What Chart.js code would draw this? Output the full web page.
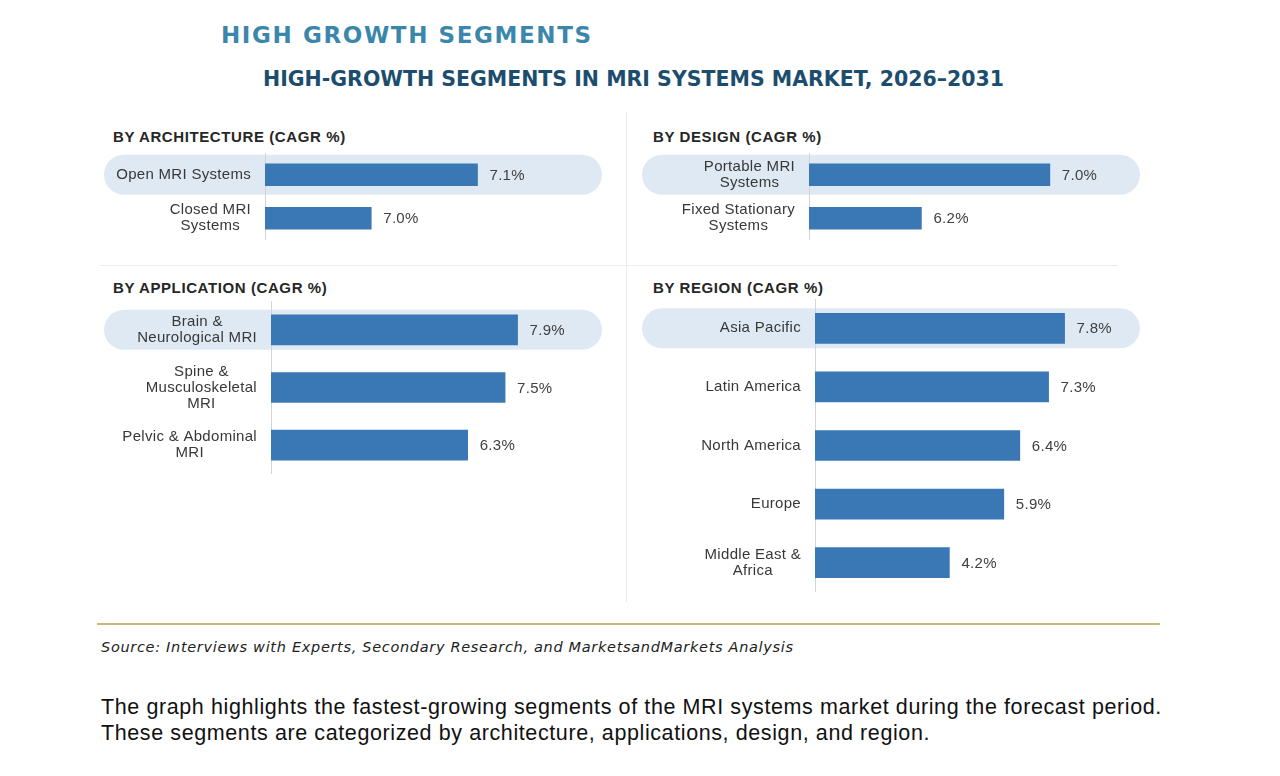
<!DOCTYPE html>
<html>
<head>
<meta charset="utf-8">
<script src="https://cdn.jsdelivr.net/npm/chart.js@4.4.1/dist/chart.umd.min.js"></script>
<style>
  body { margin: 0; background: #fff; width: 1280px; height: 776px; position: relative; overflow: hidden; font-family: 'Liberation Sans', Arial, sans-serif; }
  .abs { position: absolute; white-space: nowrap; }
  .title { left: 221px; top: 24px; font: bold 23px 'DejaVu Sans'; letter-spacing: 1.6px; color: #3b87ab; line-height: 1; }
  .subtitle { left: 263px; top: 69px; font: bold 20.5px 'DejaVu Sans'; color: #1d4d6e; line-height: 1; }
  .ptitle { font: bold 15px 'Liberation Sans'; color: #262626; line-height: 1; letter-spacing: 0.6px; }
  .line { position: absolute; background: #ececec; }
  .source { left: 101px; top: 640px; font: oblique 14.5px 'DejaVu Sans'; letter-spacing: 0.68px; color: #222; line-height: 1; }
  .para { left: 101px; font: 21.5px 'Liberation Sans'; color: #111; line-height: 1; letter-spacing: 0.6px; }
  canvas { position: absolute; }
</style>
</head>
<body>
<div class="abs title">HIGH GROWTH SEGMENTS</div>
<div class="abs subtitle">HIGH-GROWTH SEGMENTS IN MRI SYSTEMS MARKET, 2026–2031</div>

<div class="line" style="left:626px;top:112px;width:1px;height:490px"></div>
<div class="line" style="left:100px;top:265px;width:1018px;height:1px"></div>

<div class="abs ptitle" style="left:113px;top:129px">BY ARCHITECTURE (CAGR %)</div>
<div class="abs ptitle" style="left:653px;top:129px">BY DESIGN (CAGR %)</div>
<div class="abs ptitle" style="left:113px;top:280px">BY APPLICATION (CAGR %)</div>
<div class="abs ptitle" style="left:653px;top:280px">BY REGION (CAGR %)</div>

<canvas id="arch" width="505" height="87" style="left:100px;top:153px"></canvas>
<canvas id="design" width="505" height="87" style="left:638px;top:153px"></canvas>
<canvas id="app" width="505" height="173" style="left:100px;top:301px"></canvas>
<canvas id="region" width="505" height="293" style="left:638px;top:299px"></canvas>

<div class="line" style="left:97px;top:623px;width:1063px;height:2px;background:#c9b87c"></div>
<div class="abs source">Source: Interviews with Experts, Secondary Research, and MarketsandMarkets Analysis</div>
<div class="abs para" style="top:697px">The graph highlights the fastest-growing segments of the MRI systems market during the forecast period.</div>
<div class="abs para" style="top:723px">These segments are categorized by architecture, applications, design, and region.</div>

<script>
// categories and CAGR values per panel
const archLabels = ['Open MRI Systems', ['Closed MRI', 'Systems']];
const archValues = [7.1, 7.0];

const designLabels = [['Portable MRI', 'Systems'], ['Fixed Stationary', 'Systems']];
const designValues = [7.0, 6.2];

const appLabels = [['Brain &', 'Neurological MRI'], ['Spine &', 'Musculoskeletal', 'MRI'], ['Pelvic & Abdominal', 'MRI']];
const appValues = [7.9, 7.5, 6.3];

const regionLabels = ['Asia Pacific', 'Latin America', 'North America', 'Europe', ['Middle East &', 'Africa']];
const regionValues = [7.8, 7.3, 6.4, 5.9, 4.2];

const BAR = '#3a78b5';
const PILL = '#dfe9f4';

// light blue rounded band behind the top category
const pillPlugin = {
  id: 'pill',
  beforeDraw(chart, args, opts) {
    const ctx = chart.ctx;
    const y = chart.scales.y.getPixelForValue(0);
    ctx.save();
    ctx.fillStyle = PILL;
    ctx.beginPath();
    ctx.roundRect(opts.left, y - 20, opts.right - opts.left, 40, 20);
    ctx.fill();
    ctx.restore();
  }
};

// category names (right block, centred lines) and value labels
const textPlugin = {
  id: 'texts',
  afterDraw(chart) {
    const ctx = chart.ctx;
    const ys = chart.scales.y;
    const axisX = chart.chartArea.left;
    ctx.save();
    ctx.font = '15px "Liberation Sans"';
    ctx.letterSpacing = '0.3px';
    ctx.textBaseline = 'middle';
    chart.data.labels.forEach((lab, i) => {
      const lines = Array.isArray(lab) ? lab : [lab];
      const w = Math.max(...lines.map(l => ctx.measureText(l).width));
      const cx = axisX - 14 - w / 2;
      const cy = ys.getPixelForValue(i);
      ctx.fillStyle = '#383838';
      ctx.textAlign = 'center';
      lines.forEach((l, k) => ctx.fillText(l, cx, cy + (k - (lines.length - 1) / 2) * 16));
    });
    const meta = chart.getDatasetMeta(0);
    ctx.textAlign = 'left';
    ctx.fillStyle = '#404040';
    meta.data.forEach((bar, i) => {
      ctx.fillText(chart.data.datasets[0].data[i].toFixed(1) + '%', bar.x + 12, bar.y + 1);
    });
    ctx.restore();
  }
};

function makeChart(id, labels, values, o) {
  return new Chart(document.getElementById(id), {
    type: 'bar',
    data: {
      labels: labels,
      datasets: [{ data: values, backgroundColor: BAR, barThickness: o.bar, borderWidth: 0 }]
    },
    options: {
      indexAxis: 'y',
      responsive: false,
      animation: false,
      events: [],
      layout: { padding: 0 },
      plugins: {
        legend: { display: false },
        tooltip: { enabled: false },
        pill: { left: 4, right: 502 }
      },
      scales: {
        y: {
          grid: { display: false, drawTicks: false },
          border: { display: true, color: '#d4d4d4', width: 1 },
          ticks: { display: false },
          afterFit: s => { s.width = o.axisW; }
        },
        x: { display: false, min: o.min, max: o.max }
      }
    },
    plugins: [pillPlugin, textPlugin]
  });
}

makeChart('arch', archLabels, archValues, { axisW: 165, min: 6.9, max: 7.22, bar: 22 });
makeChart('design', designLabels, designValues, { axisW: 171, min: 5.5, max: 7.58, bar: 22 });
makeChart('app', appLabels, appValues, { axisW: 171, min: 0, max: 10.7, bar: 30 });
makeChart('region', regionLabels, regionValues, { axisW: 177, min: 0, max: 10.25, bar: 30 });
</script>
</body>
</html>
